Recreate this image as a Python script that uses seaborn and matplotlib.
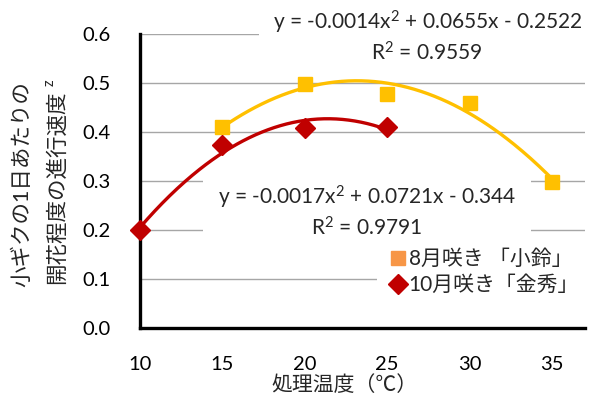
import numpy as np
import pandas as pd
import matplotlib
matplotlib.use("Agg")
import matplotlib.pyplot as plt
from matplotlib.lines import Line2D
from matplotlib.patches import Rectangle
import seaborn as sns

# ---- data ----
temp_aug = [15, 20, 25, 30, 35]
rate_aug = [0.410, 0.497, 0.478, 0.460, 0.297]
temp_oct = [10, 15, 20, 25]
rate_oct = [0.200, 0.373, 0.408, 0.410]
label_aug = "8月咲き 「小鈴」"
label_oct = "10月咲き「金秀」"
eq_aug = [r"y = -0.0014x$^\mathrm{2}$ + 0.0655x - 0.2522", r"R$^\mathrm{2}$ = 0.9559"]
eq_oct = [r"y = -0.0017x$^\mathrm{2}$ + 0.0721x - 0.344", r"R$^\mathrm{2}$ = 0.9791"]
xticks = [10, 15, 20, 25, 30, 35]
yticks = [0.0, 0.1, 0.2, 0.3, 0.4, 0.5, 0.6]
xlabel = "処理温度（℃）"
ylabel1 = "小ギクの1日あたりの"
ylabel2 = "開花程度の進行速度"

YEL = "#FFC000"
ORG = "#F79646"
RED = "#C00000"

sns.set_style("white")
FAM = ["Lato", "Noto Sans CJK JP", "DejaVu Sans"]
plt.rcParams["font.family"] = FAM
plt.rcParams["mathtext.fontset"] = "custom"
plt.rcParams["mathtext.rm"] = "Lato"
plt.rcParams["mathtext.it"] = "Lato"
plt.rcParams["mathtext.bf"] = "Lato"

fig = plt.figure(figsize=(6.01, 3.99), dpi=100)
ax = fig.add_axes([140 / 601, 1 - 328 / 399, 445 / 601, (328 - 34) / 399])

df_a = pd.DataFrame({"x": temp_aug, "y": rate_aug})
df_o = pd.DataFrame({"x": temp_oct, "y": rate_oct})

# quadratic trendlines fitted to the data
ca = np.polyfit(temp_aug, rate_aug, 2)
co = np.polyfit(temp_oct, rate_oct, 2)
xa = np.linspace(min(temp_aug), max(temp_aug), 200)
xo = np.linspace(min(temp_oct), max(temp_oct), 200)
fit_a = pd.DataFrame({"x": xa, "y": np.polyval(ca, xa)})
fit_o = pd.DataFrame({"x": xo, "y": np.polyval(co, xo)})

ax.set_xlim(10, 37)
ax.set_ylim(0, 0.6)
ax.set_xticks(xticks)
ax.set_yticks(yticks)
ax.set_yticklabels([f"{v:.1f}" for v in yticks])
ax.grid(axis="y", color="#A6A6A6", linewidth=1.0)
ax.grid(axis="x", visible=False)
ax.set_axisbelow(True)

# white label boxes hiding gridlines
for (x0, y0, w, h) in [(17.2, 0.55, 20, 0.1), (13.8, 0.15, 19.9, 0.2), (24.4, 0.02, 12.6, 0.15)]:
    ax.add_patch(Rectangle((x0, y0), w, h, facecolor="white", edgecolor="none", zorder=1, clip_on=True))

sns.lineplot(data=fit_a, x="x", y="y", ax=ax, color=YEL, linewidth=2.4, zorder=3)
sns.lineplot(data=fit_o, x="x", y="y", ax=ax, color=RED, linewidth=2.4, zorder=3)
ax.plot(df_a["x"], df_a["y"], linestyle="none", marker="s", markersize=10, color=YEL, zorder=4, clip_on=False)
ax.plot(df_o["x"], df_o["y"], linestyle="none", marker="D", markersize=10, color=RED, zorder=4, clip_on=False)

for s in ["top", "right"]:
    ax.spines[s].set_visible(False)
for s in ["left", "bottom"]:
    ax.spines[s].set_color("black")
    ax.spines[s].set_linewidth(2.4)
ax.tick_params(axis="both", length=0, labelsize=14.5, colors="black")
ax.tick_params(axis="y", pad=21)
ax.tick_params(axis="x", pad=20)
ax.set_xlabel("")
ax.set_ylabel("")

def px2x(px):
    return 10 + (px - 140) / (412 / 25)

def py2y(py):
    return (328 - py) / 490

ax.text(px2x(428), py2y(22), eq_aug[0], ha="center", va="center", fontsize=15, zorder=5)
ax.text(px2x(427), py2y(53), eq_aug[1], ha="center", va="center", fontsize=15, zorder=5)
ax.text(px2x(367), py2y(197), eq_oct[0], ha="center", va="center", fontsize=15, zorder=5)
ax.text(px2x(367), py2y(228), eq_oct[1], ha="center", va="center", fontsize=15, zorder=5)

handles = [Line2D([], [], linestyle="none", marker="s", markersize=10, color=ORG),
           Line2D([], [], linestyle="none", marker="D", markersize=10, color=RED)]
ax.legend(handles, [label_aug, label_oct], loc="upper left",
          bbox_to_anchor=((392 - 140) / 445, (328 - 249) / 294),
          frameon=False, fontsize=15, handlelength=0.6, handletextpad=0.2,
          labelspacing=0.3, borderaxespad=0, borderpad=0)

fig.text(345 / 601, 1 - 385 / 399, xlabel, ha="center", va="center", fontsize=15)
fig.text(22 / 601, 1 - 184.5 / 399, ylabel1, rotation=90, ha="center", va="center", fontsize=15.5)
fig.text(57 / 601, 1 - 187.5 / 399, ylabel2, rotation=90, ha="center", va="center", fontsize=15.5)
fig.text(50 / 601, 1 - 82.5 / 399, "z", rotation=90, ha="center", va="center", fontsize=10.5)

fig.savefig("out.png", dpi=100)
